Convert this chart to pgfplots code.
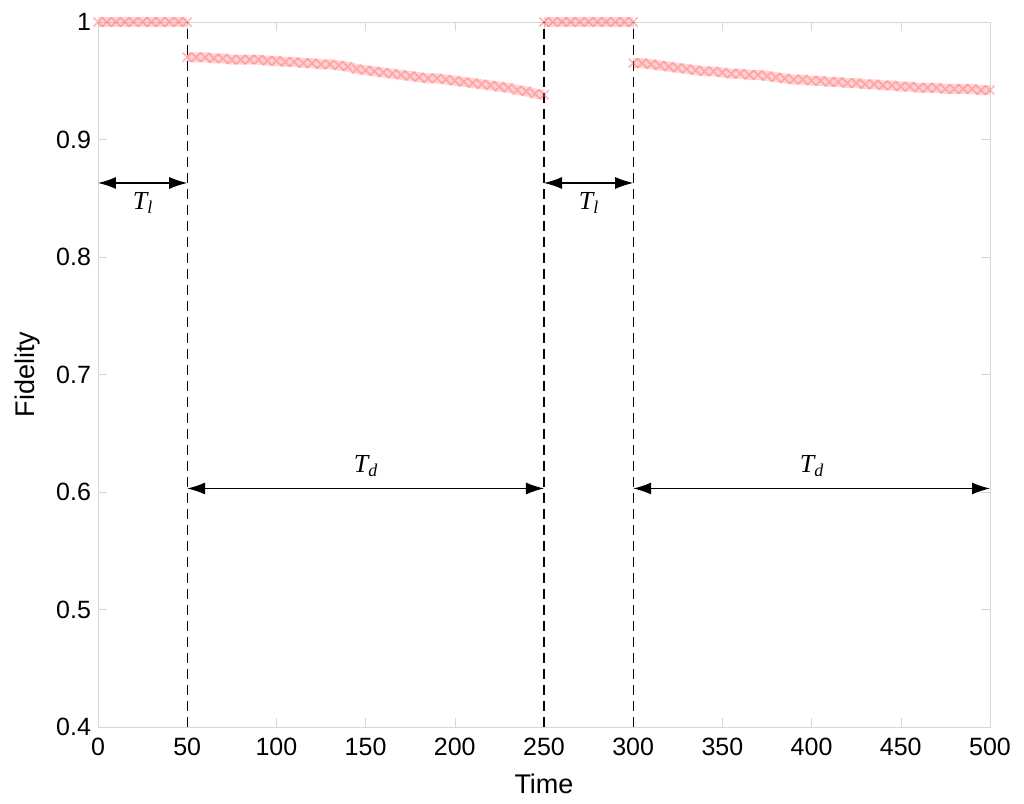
\documentclass[border=0pt]{standalone}
\usepackage{pgfplots}
\pgfplotsset{compat=1.18}
\usepackage{fontspec}
\setmainfont{Liberation Sans}
\newfontfamily\tnr{Liberation Serif}
\usetikzlibrary{arrows.meta}
\definecolor{fid}{RGB}{255,110,110}
\definecolor{boxgray}{RGB}{215,215,215}
\newcommand{\Tsub}[1]{{\tnr\itshape T\raisebox{-0.35ex}{\fontsize{9}{10}\selectfont #1}}}

\begin{document}
\begin{tikzpicture}
\useasboundingbox (-49pt,-38.5pt) rectangle (463pt,363.5pt);
\begin{axis}[
  at={(0,0)}, anchor=south west,
  scale only axis, width=446pt, height=352.5pt,
  xmin=0, xmax=500, ymin=0.4, ymax=1,
  xtick={0,50,...,500},
  ytick={0.4,0.5,0.6,0.7,0.8,0.9,1},
  yticklabel style={/pgf/number format/fixed,/pgf/number format/precision=1},
  xticklabel style={yshift=-2pt},
  /pgf/number format/assume math mode=true,
  tick align=inside,
  axis line style={boxgray},
  major tick style={boxgray},
  tick label style={font=\fontsize{12.5}{14}\selectfont, black},
  label style={font=\fontsize{13.5}{15}\selectfont},
  xlabel={Time}, ylabel={Fidelity},
  xlabel style={yshift=-2pt},
  ylabel style={yshift=1pt},
  clip=false,
]
% pink band
\pgfplotsset{band/.style={color=fid, opacity=0.3, line width=5pt, mark=x, mark size=3.2pt, mark options={line width=0.9pt, opacity=0.45}}}
\addplot[band] coordinates {
(0,1)(5,1)(10,1)(15,1)(20,1)(25,1)(30,1)(35,1)(40,1)(45,1)(50,1)
};
\addplot[band] coordinates {
(50,0.970)(55,0.970)(60,0.970)(65,0.969)(70,0.969)(75,0.968)(80,0.968)(85,0.968)(90,0.968)(95,0.967)
(100,0.967)(105,0.966)(110,0.966)(115,0.965)(120,0.965)(125,0.964)(130,0.964)(135,0.963)(140,0.962)(145,0.960)
(150,0.959)(155,0.958)(160,0.957)(165,0.956)(170,0.955)(175,0.954)(180,0.953)(185,0.952)(190,0.952)(195,0.951)
(200,0.950)(205,0.949)(210,0.948)(215,0.947)(220,0.946)(225,0.945)(230,0.944)(235,0.942)(240,0.941)(245,0.939)
(250,0.938)
};
\addplot[band] coordinates {
(250,1)(255,1)(260,1)(265,1)(270,1)(275,1)(280,1)(285,1)(290,1)(295,1)(300,1)
};
\addplot[band] coordinates {
(300,0.965)(305,0.965)(310,0.964)(315,0.963)(320,0.962)(325,0.961)(330,0.960)(335,0.959)(340,0.958)(345,0.958)
(350,0.957)(355,0.956)(360,0.956)(365,0.955)(370,0.955)(375,0.954)(380,0.953)(385,0.952)(390,0.951)(395,0.951)
(400,0.950)(405,0.950)(410,0.949)(415,0.949)(420,0.948)(425,0.948)(430,0.947)(435,0.947)(440,0.946)(445,0.946)
(450,0.945)(455,0.945)(460,0.944)(465,0.944)(470,0.944)(475,0.943)(480,0.943)(485,0.943)(490,0.943)(495,0.942)
(500,0.942)
};
% period markers
\tikzset{per/.style={black, line width=0.6pt, dash pattern=on 5pt off 3pt},
         arr/.style={{Latex[length=9pt,width=6pt]}-{Latex[length=9pt,width=6pt]}, line width=0.6pt}}
\draw[per] (axis cs:50,0.4) -- (axis cs:50,1);
\draw[per] (axis cs:250,0.4) -- (axis cs:250,1);
\draw[per] (axis cs:300,0.4) -- (axis cs:300,1);
\draw[arr] (axis cs:0,0.863) -- (axis cs:50,0.863);
\draw[arr] (axis cs:250,0.863) -- (axis cs:300,0.863);
\draw[arr] (axis cs:50,0.603) -- (axis cs:250,0.603);
\draw[arr] (axis cs:300,0.603) -- (axis cs:500,0.603);
\node[font=\fontsize{13}{15}\selectfont] at (axis cs:25,0.846) {\Tsub{l}};
\node[font=\fontsize{13}{15}\selectfont] at (axis cs:275,0.846) {\Tsub{l}};
\node[font=\fontsize{13}{15}\selectfont] at (axis cs:150,0.622) {\Tsub{d}};
\node[font=\fontsize{13}{15}\selectfont] at (axis cs:400,0.622) {\Tsub{d}};
\end{axis}
\end{tikzpicture}
\end{document}
